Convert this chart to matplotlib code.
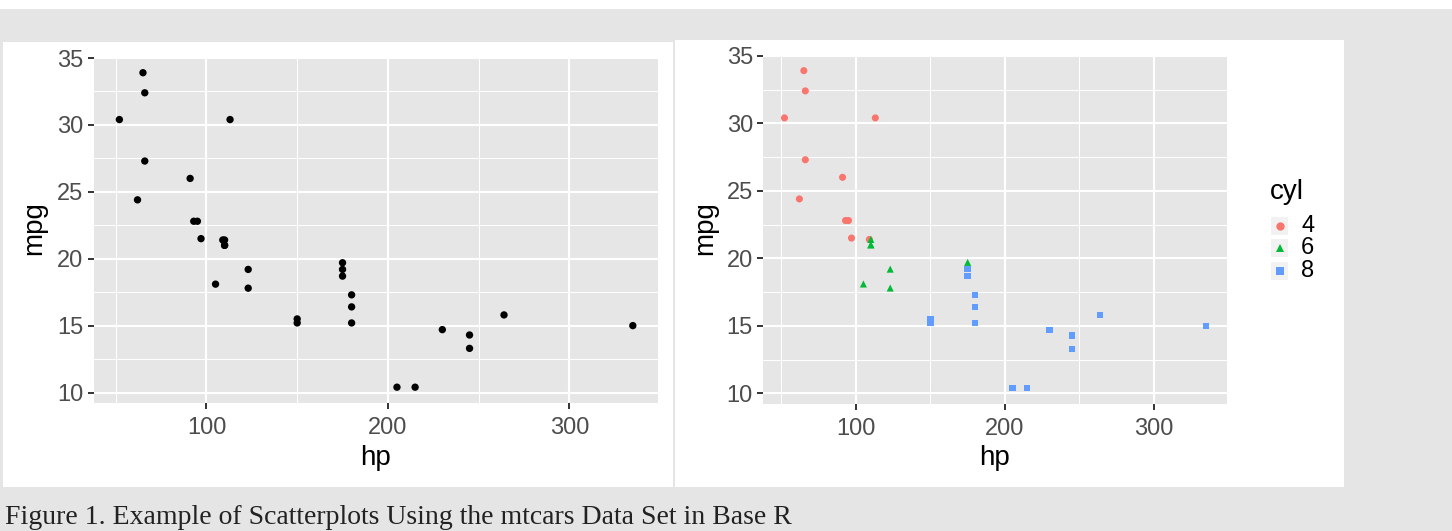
import matplotlib
matplotlib.use("Agg")
import matplotlib.pyplot as plt
from matplotlib.patches import Rectangle

# mtcars: horsepower, miles per gallon, cylinders
hp = [110, 110, 93, 110, 175, 105, 245, 62, 95, 123, 123, 180, 180, 180, 205, 215,
      230, 66, 52, 65, 97, 150, 150, 245, 175, 66, 91, 113, 264, 175, 335, 109]
mpg = [21.0, 21.0, 22.8, 21.4, 18.7, 18.1, 14.3, 24.4, 22.8, 19.2, 17.8, 16.4, 17.3, 15.2, 10.4, 10.4,
       14.7, 32.4, 30.4, 33.9, 21.5, 15.5, 15.2, 13.3, 19.2, 27.3, 26.0, 30.4, 15.8, 19.7, 15.0, 21.4]
cyl = [6, 6, 4, 6, 8, 6, 8, 4, 4, 6, 6, 8, 8, 8, 8, 8,
       8, 4, 4, 4, 4, 8, 8, 8, 8, 4, 4, 4, 8, 6, 8, 4]

cyl_levels = [4, 6, 8]
cyl_colors = ["#F8766D", "#00BA38", "#619CFF"]
cyl_markers = ["o", "^", "s"]

x_ticks = [100, 200, 300]
y_ticks = [10, 15, 20, 25, 30, 35]
x_minor = [50, 150, 250]
y_minor = [12.5, 17.5, 22.5, 27.5, 32.5]

caption = "Figure 1. Example of Scatterplots Using the mtcars Data Set in Base R"

W, H = 1452, 531
BG = "#e5e5e5"
PANEL = "#e6e6e6"

plt.rcParams["font.family"] = ["Liberation Sans", "DejaVu Sans"]

fig = plt.figure(figsize=(W / 100, H / 100), dpi=100, facecolor=BG)


def px_rect(x0, y0, x1, y1, color, z=-10):
    # rectangle given in pixel coords (top-left origin)
    fig.patches.append(Rectangle((x0 / W, 1 - y1 / H), (x1 - x0) / W, (y1 - y0) / H,
                                 transform=fig.transFigure, facecolor=color,
                                 edgecolor="none", zorder=z))


px_rect(0, 0, W, 9, "white")
px_rect(3, 42, 673, 487, "white")
px_rect(675, 40, 1344, 487, "white")


def style_axes(ax):
    xr = max(hp) - min(hp)
    yr = max(mpg) - min(mpg)
    ax.set_xlim(min(hp) - 0.05 * xr, max(hp) + 0.05 * xr)
    ax.set_ylim(min(mpg) - 0.05 * yr, max(mpg) + 0.05 * yr)
    ax.set_facecolor(PANEL)
    for s in ax.spines.values():
        s.set_visible(False)
    ax.set_xticks(x_ticks)
    ax.set_yticks(y_ticks)
    ax.set_xticks(x_minor, minor=True)
    ax.set_yticks(y_minor, minor=True)
    ax.grid(True, which="major", color="white", linewidth=1.5)
    ax.grid(True, which="minor", color="white", linewidth=0.75)
    ax.set_axisbelow(True)
    ax.tick_params(which="major", length=4.5, width=1.4, color="#333333",
                   labelcolor="#4d4d4d", labelsize=17, pad=3)
    ax.tick_params(axis="x", which="major", pad=6)
    ax.tick_params(which="minor", length=0)


def axes_px(x0, y0, x1, y1):
    return fig.add_axes([x0 / W, 1 - y1 / H, (x1 - x0) / W, (y1 - y0) / H])


# left: plain scatter
ax1 = axes_px(93.7, 57.0, 658.5, 402.9)
style_axes(ax1)
ax1.scatter(hp, mpg, s=28, color="black", edgecolors="none", zorder=3)
fig.text(34 / W, 1 - 228 / H, "mpg", rotation=90, ha="center", va="center", fontsize=20)
fig.text(376 / W, 1 - 458 / H, "hp", ha="center", va="center", fontsize=20)

# right: coloured by cyl
ax2 = axes_px(763.4, 54.8, 1227.0, 403.8)
style_axes(ax2)
for lev, col, mk in zip(cyl_levels, cyl_colors, cyl_markers):
    xs = [h for h, c in zip(hp, cyl) if c == lev]
    ys = [m for m, c in zip(mpg, cyl) if c == lev]
    ax2.scatter(xs, ys, s=26 if mk != "s" else 22, marker=mk, color=col,
                edgecolors="none", zorder=3)
fig.text(705 / W, 1 - 228 / H, "mpg", rotation=90, ha="center", va="center", fontsize=20)
fig.text(995 / W, 1 - 458 / H, "hp", ha="center", va="center", fontsize=20)

# legend
fig.text(1270 / W, 1 - 192 / H, "cyl", ha="left", va="center", fontsize=20)
key_y = [226, 248, 271]
for lev, col, mk, ky in zip(cyl_levels, cyl_colors, cyl_markers, key_y):
    px_rect(1271, ky - 9, 1288, ky + 9, "#f2f2f2", z=1)
    fig.lines.append(plt.Line2D([1279.5 / W], [1 - ky / H], transform=fig.transFigure,
                                marker=mk, markersize=6 if mk != "s" else 5.4,
                                color=col, markeredgewidth=0, linestyle="none", zorder=2))
    fig.text(1301 / W, 1 - ky / H, str(lev), ha="left", va="center", fontsize=17)

fig.text(5 / W, 1 - 530 / H, caption, ha="left", va="bottom", fontsize=20,
         family=["Liberation Serif", "DejaVu Serif"], color="#222222")

fig.savefig("out.png", dpi=100, facecolor=BG)
